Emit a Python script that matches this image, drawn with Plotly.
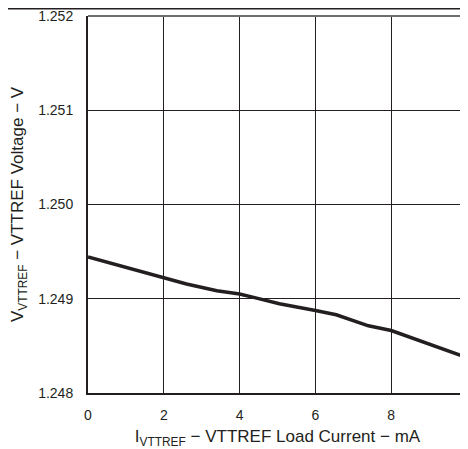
import plotly.graph_objects as go

load_current_ma = [0, 2.0, 2.6, 3.4, 4.0, 4.45, 5.05, 6.0, 6.55, 7.4, 8.0, 10.0]
vttref_voltage_v = [1.249444, 1.249220, 1.249156, 1.249085, 1.249050, 1.249007,
                    1.248947, 1.248876, 1.248830, 1.248713, 1.248663, 1.248376]

x_ticks = [0, 2, 4, 6, 8, 10]
y_ticks = [1.248, 1.249, 1.250, 1.251, 1.252]

fig = go.Figure()
fig.add_trace(go.Scatter(
    x=load_current_ma, y=vttref_voltage_v, mode="lines",
    line=dict(color="#231f20", width=3.5), showlegend=False, hoverinfo="skip"))

font = dict(family="Liberation Sans, Arial, sans-serif", size=14, color="#231f20")

fig.update_layout(
    width=460, height=441,
    margin=dict(l=80, r=1, t=8, b=56),
    paper_bgcolor="white", plot_bgcolor="white",
    font=font,
    xaxis=dict(range=[0, 10], tickvals=x_ticks, ticktext=[str(v) for v in x_ticks],
               showgrid=True, gridcolor="#231f20", gridwidth=1,
               showline=True, linecolor="#231f20", linewidth=2, mirror=False,
               zeroline=False, ticks="", fixedrange=True, automargin=False,
               ticklabelstandoff=8, ticklabeloverflow="allow",
               title=dict(text="I<sub>VTTREF</sub> − VTTREF Load Current − mA", standoff=12)),
    yaxis=dict(range=[1.248, 1.252], tickvals=y_ticks,
               ticktext=[f"{v:.3f}" for v in y_ticks],
               showgrid=True, gridcolor="#231f20", gridwidth=1,
               showline=True, linecolor="#231f20", linewidth=2, mirror=False,
               zeroline=False, ticks="", fixedrange=True, automargin=False,
               ticklabelstandoff=10, ticklabeloverflow="allow",
               title=dict(text="V<sub>VTTREF</sub> − VTTREF Voltage − V", standoff=12)),
)

# top and right plot borders (grey)
fig.add_shape(type="line", xref="paper", yref="paper", x0=0, x1=1, y0=1, y1=1,
              line=dict(color="#6d6e71", width=2))
fig.add_shape(type="line", xref="paper", yref="paper", x0=1, x1=1, y0=0, y1=1,
              line=dict(color="#6d6e71", width=2))
# page rule at top
fig.add_shape(type="line", xref="paper", yref="paper", x0=-0.3, x1=1.1,
              y0=1.019, y1=1.019, line=dict(color="#231f20", width=1.5))

fig.write_html("out.html")
